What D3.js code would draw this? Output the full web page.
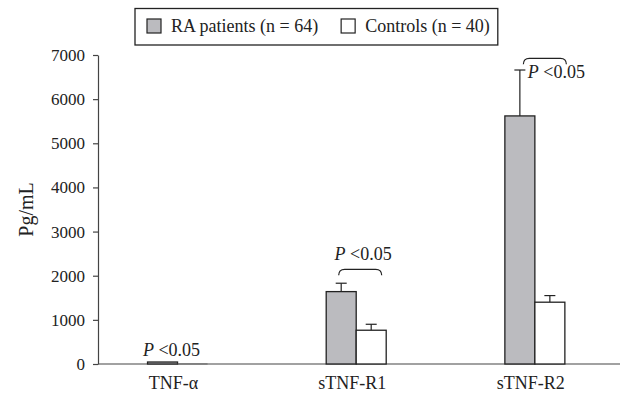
<!DOCTYPE html>
<html>
<head>
<meta charset="utf-8" />
<title>TNF and soluble receptors</title>
<script src="https://cdnjs.cloudflare.com/ajax/libs/d3/7.8.5/d3.min.js"></script>
<style>
  body { margin: 0; padding: 0; background: #fff; }
  svg { display: block; font-family: "Liberation Serif", "Times New Roman", serif; }
  .axis path, .axis line { stroke: #444; stroke-width: 1.2; }
  .axis text { font-family: "Liberation Serif", "Times New Roman", serif; font-size: 17px; fill: #222; }
</style>
</head>
<body>
<div id="chart"></div>
<script>
// values (pg/mL)
var categories = ["TNF-\u03b1", "sTNF-R1", "sTNF-R2"];
var series = ["RA patients (n = 64)", "Controls (n = 40)"];
var raMean = [45, 1640, 5620];
var raErr = [0, 190, 1040];
var ctrlMean = [2, 765, 1400];
var ctrlErr = [0, 135, 150];
var yTicks = [0, 1000, 2000, 3000, 4000, 5000, 6000, 7000];
// bracket level for the P annotation (null = no bracket)
var pBracket = [null, 2145, 6925];
var pLabel = "<0.05";

var W = 620, H = 400;
var svg = d3.select("#chart").append("svg").attr("width", W).attr("height", H);

var y = d3.scaleLinear().domain([0, 7000]).range([364, 55]);
var x = d3.scaleBand().domain(categories).range([88.2, 624.2]);
var x1 = d3.scaleBand().domain(series).range([-30, 30]);

var fills = ["#bbbbbf", "#ffffff"];

// y axis
svg.append("g").attr("class", "axis")
  .attr("transform", "translate(98,0)")
  .call(d3.axisLeft(y).tickValues(yTicks).tickSize(5).tickSizeOuter(0).tickPadding(8).tickFormat(d3.format("d")));

// x axis baseline
svg.append("line")
  .attr("x1", 98).attr("x2", W)
  .attr("y1", y(0)).attr("y2", y(0))
  .attr("stroke", "#444").attr("stroke-width", 1.2);

// y title
svg.append("text")
  .attr("transform", "translate(33," + ((y(0) + y(7000)) / 2) + ") rotate(-90)")
  .attr("text-anchor", "middle")
  .attr("font-size", 20).attr("fill", "#222")
  .text("Pg/mL");

// category labels
svg.selectAll(".cat").data(categories).enter().append("text")
  .attr("class", "cat")
  .attr("x", function(d) { return x(d) + x.bandwidth() / 2 - 4; })
  .attr("y", 389)
  .attr("text-anchor", "middle")
  .attr("font-size", 18).attr("fill", "#222")
  .text(function(d) { return d; });

var rows = [];
categories.forEach(function(c, i) {
  rows.push({cat: c, s: series[0], v: raMean[i], e: raErr[i], fill: fills[0]});
  rows.push({cat: c, s: series[1], v: ctrlMean[i], e: ctrlErr[i], fill: fills[1]});
});

function cx(d) { return x(d.cat) + x.bandwidth() / 2 + x1(d.s); }

// error bars (drawn first so the bar outline sits on top)
var eb = svg.selectAll(".err").data(rows.filter(function(d) { return d.e > 0; })).enter().append("g");
eb.append("line")
  .attr("x1", function(d) { return cx(d) + x1.bandwidth() / 2; })
  .attr("x2", function(d) { return cx(d) + x1.bandwidth() / 2; })
  .attr("y1", function(d) { return y(d.v); })
  .attr("y2", function(d) { return y(d.v + d.e); })
  .attr("stroke", "#222").attr("stroke-width", 1.2);
eb.append("line")
  .attr("x1", function(d) { return cx(d) + x1.bandwidth() / 2 - 5.5; })
  .attr("x2", function(d) { return cx(d) + x1.bandwidth() / 2 + 5.5; })
  .attr("y1", function(d) { return y(d.v + d.e); })
  .attr("y2", function(d) { return y(d.v + d.e); })
  .attr("stroke", "#222").attr("stroke-width", 1.2);

// bars
svg.selectAll(".bar").data(rows).enter().append("rect")
  .attr("class", "bar")
  .attr("x", cx)
  .attr("width", x1.bandwidth())
  .attr("y", function(d) { return y(d.v); })
  .attr("height", function(d) { return y(0) - y(d.v); })
  .attr("fill", function(d) { return d.fill; })
  .attr("stroke", function(d) { return d.v < 10 ? "#444" : "#222"; })
  .attr("stroke-width", function(d) { return d.v < 10 ? 0.6 : 1.3; });

// P annotations
function pText(sel) {
  sel.append("tspan").attr("font-style", "italic").text("P");
  sel.append("tspan").text(" " + pLabel);
}

categories.forEach(function(c, i) {
  var gc = x(c) + x.bandwidth() / 2;
  if (pBracket[i] == null) {
    svg.append("text")
      .attr("x", gc - 6).attr("y", y(raMean[i]) - 6)
      .attr("text-anchor", "middle")
      .attr("font-size", 18).attr("fill", "#222")
      .call(pText);
    return;
  }
  var by = y(pBracket[i]);
  var off = i == 1 ? 4 : 10;
  var x0 = gc + off - 21.5, xe = gc + off + 21.5;
  svg.append("path")
    .attr("d", "M" + x0 + "," + (by + 6) + " Q" + x0 + "," + by + " " + (x0 + 6) + "," + by +
      " L" + (xe - 6) + "," + by + " Q" + xe + "," + by + " " + xe + "," + (by + 6))
    .attr("fill", "none").attr("stroke", "#222").attr("stroke-width", 1.2);
  if (i == 1) {
    svg.append("text")
      .attr("x", gc + 7).attr("y", by - 9)
      .attr("text-anchor", "middle")
      .attr("font-size", 18).attr("fill", "#222")
      .call(pText);
  } else {
    svg.append("text")
      .attr("x", gc - 7).attr("y", by + 20)
      .attr("font-size", 18).attr("fill", "#222")
      .call(pText);
  }
});

// legend
var leg = svg.append("g");
var lx = 147;
series.forEach(function(s, i) {
  leg.append("rect")
    .attr("x", lx).attr("y", 19).attr("width", 14).attr("height", 14)
    .attr("fill", fills[i]).attr("stroke", "#222").attr("stroke-width", 1.2);
  var t = leg.append("text")
    .attr("x", lx + 24).attr("y", 32)
    .attr("font-size", 18).attr("fill", "#222")
    .text(s);
  lx = lx + 24 + t.node().getComputedTextLength() + 23;
});
svg.insert("rect", "g")
  .attr("x", 135).attr("y", 8.5)
  .attr("width", lx - 23 + 8 - 135).attr("height", 36.5)
  .attr("fill", "#fff").attr("stroke", "#222").attr("stroke-width", 1.3);
</script>
</body>
</html>
